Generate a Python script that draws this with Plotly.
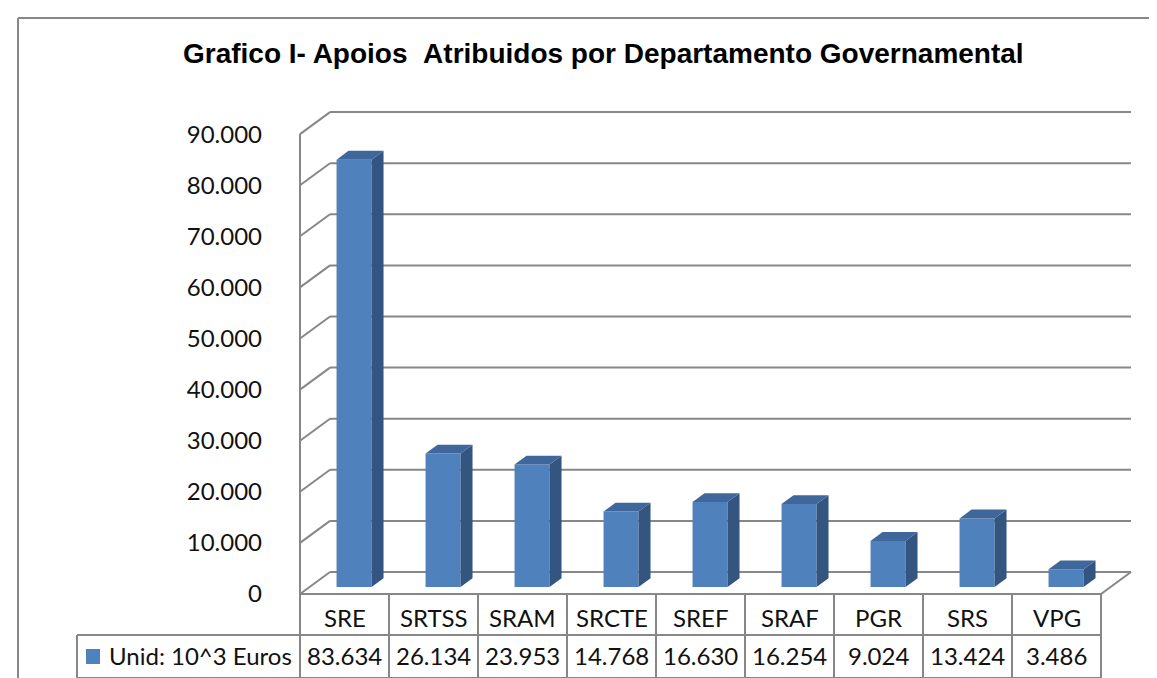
import plotly.graph_objects as go

# ---------------- data ----------------
categories = ["SRE", "SRTSS", "SRAM", "SRCTE", "SREF", "SRAF", "PGR", "SRS", "VPG"]
values = [83634, 26134, 23953, 14768, 16630, 16254, 9024, 13424, 3486]
series_name = "Unid: 10^3 Euros"
y_ticks = [0, 10000, 20000, 30000, 40000, 50000, 60000, 70000, 80000, 90000]
title_text = "Grafico I- Apoios\u00a0\u00a0Atribuidos por Departamento Governamental"


def fmt(v):
    return f"{v:,}".replace(",", ".")


# ---------------- geometry / style ----------------
W, H = 1157, 678
ML, MR, MT, MB = 270, 20, 90, 70
PA_W = W - ML - MR
PA_H = H - MT - MB
COL_PX = 89.0          # pixel width of one category
FRONT_LEFT_PX = 292.0  # pixel x of front-left wall edge
ZERO_PX = 586.0        # pixel y of value 0 on front plane
PX_PER_UNIT_Y = 51.1 / 10000.0
DEPTH_DX_PX, DEPTH_DY_PX = 30.0, 22.0

XMIN = -0.5 - (FRONT_LEFT_PX - ML) / COL_PX
XMAX = XMIN + PA_W / COL_PX
YMIN = -((MT + PA_H) - ZERO_PX) / PX_PER_UNIT_Y
YMAX = YMIN + PA_H / PX_PER_UNIT_Y
DX = DEPTH_DX_PX / COL_PX
DY = DEPTH_DY_PX / PX_PER_UNIT_Y

BAR_F = 0.318      # depth fraction of bar front face
BAR_D = 0.40       # depth fraction of bar thickness
BAR_W = 0.393

C_FRONT = "#4F81BD"
C_SIDE = "#34557F"
C_TOP = "#3F679B"
C_GRID = "#878787"
FONT_T = "Lato, 'Noto Sans', sans-serif"
FS = 24


def xpap(px):
    return (px - ML) / PA_W


def ypap(py):
    return (MT + PA_H - py) / PA_H


def xd2pap(xd):
    return (xd - XMIN) / (XMAX - XMIN)


n = len(categories)
idx = list(range(n))

fig = go.Figure()

# front faces of bars
bx = [i + BAR_F * DX for i in idx]
fig.add_trace(go.Bar(
    x=bx, y=values, base=BAR_F * DY, width=BAR_W,
    marker=dict(color=C_FRONT, line=dict(width=0)),
    name=series_name, showlegend=False, hoverinfo="skip"))

# side and top faces
sx, sy, tx, ty = [], [], [], []
ddx, ddy = BAR_D * DX, BAR_D * DY
b0 = BAR_F * DY
for xc, v in zip(bx, values):
    xl, xr = xc - BAR_W / 2, xc + BAR_W / 2
    sx += [xr, xr, xr + ddx, xr + ddx, xr, None]
    sy += [b0, b0 + v, b0 + v + ddy, b0 + ddy, b0, None]
    tx += [xl, xr, xr + ddx, xl + ddx, xl, None]
    ty += [b0 + v, b0 + v, b0 + v + ddy, b0 + v + ddy, b0 + v, None]
fig.add_trace(go.Scatter(x=sx, y=sy, mode="lines", fill="toself", fillcolor=C_SIDE,
                         line=dict(width=0, color=C_SIDE), showlegend=False, hoverinfo="skip"))
fig.add_trace(go.Scatter(x=tx, y=ty, mode="lines", fill="toself", fillcolor=C_TOP,
                         line=dict(width=0, color=C_TOP), showlegend=False, hoverinfo="skip"))

shapes = []
gl = dict(color=C_GRID, width=2)
x_front_l = -0.5
x_front_r = n - 0.5
for v in y_ticks:
    # back wall line
    shapes.append(dict(type="line", xref="x", yref="y", x0=x_front_l + DX, y0=v + DY,
                       x1=x_front_r + DX, y1=v + DY, line=gl, layer="below"))
    # side wall diagonal
    shapes.append(dict(type="line", xref="x", yref="y", x0=x_front_l, y0=v,
                       x1=x_front_l + DX, y1=v + DY, line=gl, layer="below"))
# floor front edge and right diagonal
shapes.append(dict(type="line", xref="x", yref="y", x0=x_front_l, y0=0, x1=x_front_r, y1=0,
                   line=gl, layer="below"))
shapes.append(dict(type="line", xref="x", yref="y", x0=x_front_r, y0=0, x1=x_front_r + DX, y1=DY,
                   line=gl, layer="below"))
# front-left vertical edge (down through the table)
shapes.append(dict(type="line", xref="paper", yref="paper", x0=xd2pap(x_front_l),
                   y0=ypap(670), x1=xd2pap(x_front_l), y1=ypap(ZERO_PX - y_ticks[-1] * PX_PER_UNIT_Y),
                   line=gl))

# data table
ROW1_B, ROW2_B = 627, 670
LEG_L = 69
for k in range(1, n + 1):
    xx = xd2pap(k - 0.5)
    shapes.append(dict(type="line", xref="paper", yref="paper", x0=xx, x1=xx,
                       y0=ypap(ZERO_PX), y1=ypap(ROW2_B), line=gl))
for yy in (ROW1_B, ROW2_B):
    shapes.append(dict(type="line", xref="paper", yref="paper", x0=xpap(LEG_L), x1=xd2pap(x_front_r),
                       y0=ypap(yy), y1=ypap(yy), line=gl))
shapes.append(dict(type="line", xref="paper", yref="paper", x0=xpap(LEG_L), x1=xpap(LEG_L),
                   y0=ypap(ROW1_B), y1=ypap(ROW2_B), line=gl))
# legend key
shapes.append(dict(type="rect", xref="paper", yref="paper", x0=xpap(78), x1=xpap(92),
                   y0=ypap(656), y1=ypap(641), fillcolor=C_FRONT, line=dict(width=0)))
# outer chart frame
shapes.append(dict(type="line", xref="paper", yref="paper", x0=xpap(10), x1=xpap(W + 5),
                   y0=ypap(10), y1=ypap(10), line=gl))
shapes.append(dict(type="line", xref="paper", yref="paper", x0=xpap(10), x1=xpap(10),
                   y0=ypap(10), y1=ypap(H + 5), line=gl))

annotations = []
tfont = dict(family=FONT_T, size=FS, color="#111111")
for i, c, v in zip(idx, categories, values):
    annotations.append(dict(x=i, xref="x", y=ypap(609), yref="paper", text=c, showarrow=False,
                            font=tfont, xanchor="center", yanchor="middle"))
    annotations.append(dict(x=i, xref="x", y=ypap(647), yref="paper", text=fmt(v), showarrow=False,
                            font=tfont, xanchor="center", yanchor="middle"))
annotations.append(dict(x=xpap(99), xref="paper", y=ypap(647), yref="paper", text=series_name,
                        showarrow=False, font=tfont, xanchor="left", yanchor="middle"))
annotations.append(dict(x=xpap(595), xref="paper", y=ypap(46), yref="paper", text="<b>" + title_text + "</b>",
                        showarrow=False, font=dict(family="'Liberation Sans', Arial, sans-serif", size=28,
                                                   color="#000000"),
                        xanchor="center", yanchor="middle"))

fig.update_layout(
    width=W, height=H,
    margin=dict(l=ML, r=MR, t=MT, b=MB, pad=0),
    paper_bgcolor="white", plot_bgcolor="rgba(0,0,0,0)",
    showlegend=False,
    shapes=shapes, annotations=annotations,
    xaxis=dict(range=[XMIN, XMAX], showgrid=False, zeroline=False, showline=False,
               showticklabels=False, ticks=""),
    yaxis=dict(range=[YMIN, YMAX], showgrid=False, zeroline=False, showline=False,
               tickmode="array", tickvals=y_ticks, ticktext=[fmt(v) for v in y_ticks],
               ticks="", ticklabelstandoff=int(round(FRONT_LEFT_PX - 255 - (FRONT_LEFT_PX - ML))),
               tickfont=dict(family=FONT_T, size=FS, color="#111111")),
)

fig.write_html("out.html")
